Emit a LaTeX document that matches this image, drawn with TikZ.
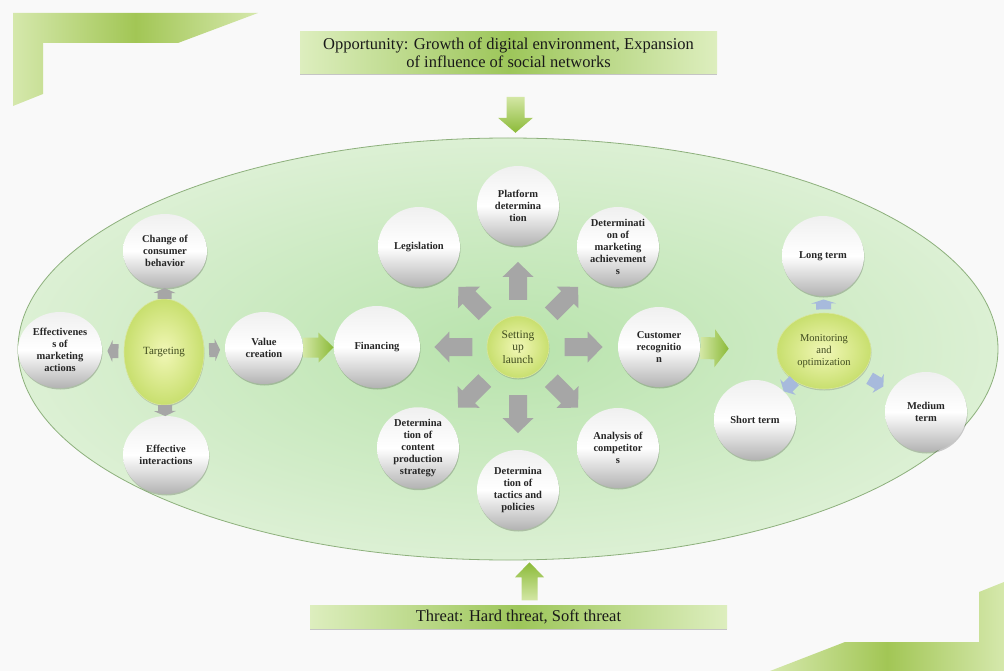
\documentclass[tikz,border=0pt]{standalone}
\usepackage{fontspec}
\setmainfont{Liberation Serif}
\usetikzlibrary{shapes.geometric,shadows,calc}

\definecolor{bg}{HTML}{F9F9F9}
\definecolor{cornerlight}{HTML}{D5E8AC}
\definecolor{cornerdark}{HTML}{A2C655}
\definecolor{envin}{HTML}{B8E3AC}
\definecolor{envout}{HTML}{DCF0D4}
\definecolor{envedge}{HTML}{8DB07C}
\definecolor{boxlight}{HTML}{DDEEBE}
\definecolor{boxdark}{HTML}{9DC65A}
\definecolor{hubin}{HTML}{F1F7B6}
\definecolor{hubout}{HTML}{C8DF6E}
\definecolor{hubedge}{HTML}{D9E69E}
\definecolor{hubtext}{HTML}{3F4B1E}
\definecolor{arrowgray}{HTML}{A6A6A6}
\definecolor{arrowblue}{HTML}{A7BADC}
\definecolor{grnlight}{HTML}{D3E7A5}
\definecolor{grndark}{HTML}{8BBA38}

\tikzset{
  ball/.style={ellipse, inner sep=0pt, align=center, minimum width=82, minimum height=80,
    font=\bfseries\fontsize{10.5}{12}\selectfont, text=black!85,
    top color=black!6, bottom color=black!30, middle color=white,
    drop shadow={shadow xshift=0.5pt, shadow yshift=-1.5pt, opacity=0.2, fill=black}},
  hub/.style={ellipse, inner sep=0pt, align=center, draw=hubedge, line width=0.6pt,
    inner color=hubin, outer color=hubout, text=hubtext,
    font=\fontsize{11}{12.5}\selectfont,
    drop shadow={shadow xshift=0.5pt, shadow yshift=-1.5pt, opacity=0.15, fill=black}},
  band/.style={rectangle, inner sep=0pt, align=center, text=black!90,
    left color=boxlight, right color=boxlight, middle color=boxdark,
    drop shadow={shadow xshift=0pt, shadow yshift=-1.5pt, opacity=0.35, fill=black!60}},
  blklen/.initial=38, blkhead/.initial=31, blkshaft/.initial=18, blktip/.initial=15,
  blkpaint/.style={fill=arrowgray},
  blockarrow/.pic={
    \pgfmathsetmacro\bL{\pgfkeysvalueof{/tikz/blklen}/2}
    \pgfmathsetmacro\bH{\pgfkeysvalueof{/tikz/blkhead}/2}
    \pgfmathsetmacro\bS{\pgfkeysvalueof{/tikz/blkshaft}/2}
    \pgfmathsetmacro\bT{\bL-\pgfkeysvalueof{/tikz/blktip}}
    \path[blkpaint] (-\bL,-\bS) -- (\bT,-\bS) -- (\bT,-\bH) -- (\bL,0)
      -- (\bT,\bH) -- (\bT,\bS) -- (-\bL,\bS) -- cycle;
  },
  onpath/.style={pos=#1, sloped, allow upside down},
  onpath/.default=0.5,
  smallblk/.style={blklen=11, blkhead=22, blkshaft=14, blktip=5},
  blueblk/.style={blkpaint/.style={fill=arrowblue}},
}

\begin{document}
\begin{tikzpicture}[x=1pt,y=-1pt]
\useasboundingbox (0,0) rectangle (1004,671);
\fill[bg] (0,0) rectangle (1004,671);

% corner bands
\shade[left color=cornerlight, right color=cornerlight, middle color=cornerdark]
  (13,13) -- (258,13) -- (178,43) -- (43,43) -- (43,94) -- (13,106) -- cycle;
\shade[left color=cornerlight, right color=cornerlight, middle color=cornerdark]
  (1004,582) -- (979,592) -- (979,642) -- (845,642) -- (770,671) -- (1004,671) -- cycle;

% environment
\node[ellipse, minimum width=980, minimum height=422, inner sep=0pt,
  inner color=envin, outer color=envout, draw=envedge, line width=0.8pt] (env) at (508,349) {};

% opportunity and threat bands
\node[band, minimum width=417, minimum height=42, font=\fontsize{16.5}{18.5}\selectfont] (opp) at (508.5,53)
  {Opportunity: Growth of digital environment, Expansion\\of influence of social networks};
\node[band, minimum width=417, minimum height=23, font=\fontsize{16.5}{18}\selectfont] (threat) at (518.5,616.5)
  {Threat: Hard threat, Soft threat};

% targeting group
\node[hub, minimum width=80, minimum height=106] (target) at (164,352) {Targeting};
\node[ball, minimum width=84, minimum height=74] (change) at (165,251) {Change of\\consumer\\behavior};
\node[ball, minimum width=84, minimum height=76] (effect) at (60,350) {Effectivenes\\s of\\marketing\\actions};
\node[ball, minimum width=86, minimum height=78] (inter) at (166,455) {Effective\\interactions};
\node[ball, minimum width=78, minimum height=72] (value) at (264,348) {Value\\creation};

% launch group
\node[hub, minimum width=62, minimum height=62, font=\fontsize{11.5}{12.5}\selectfont] (launch) at (518,347) {Setting\\up\\launch};
\node[ball, minimum width=86, minimum height=82] (finance) at (377,347) {Financing};
\node[ball] (legis) at (419,247) {Legislation};
\node[ball] (platform) at (518,206) {Platform\\determina\\tion};
\node[ball] (achieve) at (618,247) {Determinati\\on of\\marketing\\achievement\\s};
\node[ball] (customer) at (659,347) {Customer\\recognitio\\n};
\node[ball] (compet) at (618,448) {Analysis of\\competitor\\s};
\node[ball] (tactics) at (518,490) {Determina\\tion of\\tactics and\\policies};
\node[ball] (content) at (418,448) {Determina\\tion of\\content\\production\\strategy};

% monitoring group
\node[hub, minimum width=94, minimum height=76, font=\fontsize{10.5}{12}\selectfont] (monitor) at (824,351) {Monitoring\\and\\optimization};
\node[ball] (long) at (823,256) {Long term};
\node[ball] (short) at (755,420) {Short term};
\node[ball] (medium) at (926,412) {Medium\\term};

% gray arrows
\foreach \t in {change,inter,effect,value}
  \path (target) -- (\t) pic[onpath, smallblk] {blockarrow};
\foreach \t in {platform,achieve,customer,compet,tactics,content,finance,legis}
  \path (launch) -- (\t) pic[onpath] {blockarrow};

% blue arrows
\path (monitor) -- (long) pic[onpath, blueblk, blklen=10, blkhead=25, blkshaft=15, blktip=4] {blockarrow};
\path (monitor) -- (short) pic[onpath, blueblk, blklen=15, blkhead=22, blkshaft=13, blktip=6] {blockarrow};
\path (monitor) -- (medium) pic[onpath, blueblk, blklen=16, blkhead=22, blkshaft=13, blktip=6] {blockarrow};

% green arrows
\path (value) -- (finance) pic[onpath, blklen=30, blkhead=30, blkshaft=20, blktip=15,
  blkpaint/.style={left color=grnlight, right color=grndark}] {blockarrow};
\path (customer) -- (monitor) pic[onpath=0.19, blklen=28, blkhead=38, blkshaft=22, blktip=14,
  blkpaint/.style={left color=grnlight, right color=grndark}] {blockarrow};
\path (opp.south -| 515.5,0) -- (env.north -| 515.5,0) pic[onpath=0.64, blklen=36, blkhead=35, blkshaft=18, blktip=15,
  blkpaint/.style={top color=grnlight, bottom color=grndark}] {blockarrow};
\path (threat.north -| 529.5,0) -- (env.south -| 529.5,0) pic[onpath=0.53, blklen=38, blkhead=29, blkshaft=16, blktip=15,
  blkpaint/.style={bottom color=grnlight, top color=grndark}] {blockarrow};
\end{tikzpicture}
\end{document}
